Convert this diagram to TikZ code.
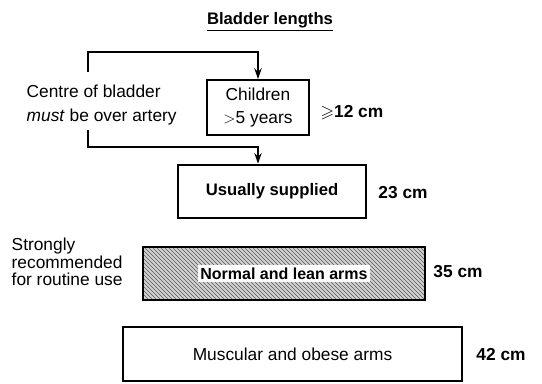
\documentclass[tikz,border=0pt]{standalone}
\usepackage{amssymb}
\usepackage{fontspec}
\setmainfont{Liberation Sans}
\usetikzlibrary{arrows.meta,patterns}
\begin{document}
\begin{tikzpicture}
    [x=0.75pt,y=-0.75pt,
    every node/.style={font=\fontsize{13}{17}\selectfont},
    box/.style={draw,line width=1.7pt,inner sep=0pt,align=center},
    conn/.style={line width=1.6pt,-{Stealth[length=8pt,width=5.5pt]}},
    size/.style={font=\fontsize{13}{16}\selectfont\bfseries}]
    \useasboundingbox (0,0) rectangle (542,383);
    %title
    \node (title) at (270,22) {\fontsize{12.5}{15}\selectfont\bfseries\underline{Bladder lengths}};
    %left notes
    \node[anchor=west,align=left,font=\fontsize{13}{18}\selectfont] (centre) at (22,105)
    {Centre of bladder\\\emph{must} be over artery};
    \node[anchor=west,align=left,font=\fontsize{13}{13.2}\selectfont] (strongly) at (7,262)
    {Strongly\\recommended\\for routine use};
    %boxes
    \node[box,minimum width=76.5pt,minimum height=41pt,font=\fontsize{13}{17}\selectfont]
    (children) at (258,107.5) {Children\\$>$5 years};
    \node[box,minimum width=141pt,minimum height=40pt,font=\fontsize{12.5}{15}\selectfont\bfseries]
    (usual) at (272,191.5) {Usually supplied};
    \node[box,minimum width=211.5pt,minimum height=40pt,
    preaction={fill=gray!35},pattern=north west lines,pattern color=gray!70!black]
    (normal) at (284,273.5) {};
    \node[fill=white,inner sep=2pt,font=\fontsize{12}{15}\selectfont\bfseries]
    (normaltxt) at (normal.center) {Normal and lean arms};
    \node[box,minimum width=254pt,minimum height=41pt] (muscular) at (292.5,354)
    {Muscular and obese arms};
    %lengths
    \node[size] (l12) at (352,113) {$\geqslant$12 cm};
    \node[size] (l23) at (403,193) {23 cm};
    \node[size] (l35) at (458,272) {35 cm};
    \node[size] (l42) at (501,355) {42 cm};
    %connectors
    \coordinate (up) at (88,72);
    \coordinate (down) at (88,130);
    \draw[conn] (up) -- ++(0,-20) -| (children.north);
    \draw[conn] (down) -- ++(0,17) -| (usual.north -| children.north);
\end{tikzpicture}
\end{document}
